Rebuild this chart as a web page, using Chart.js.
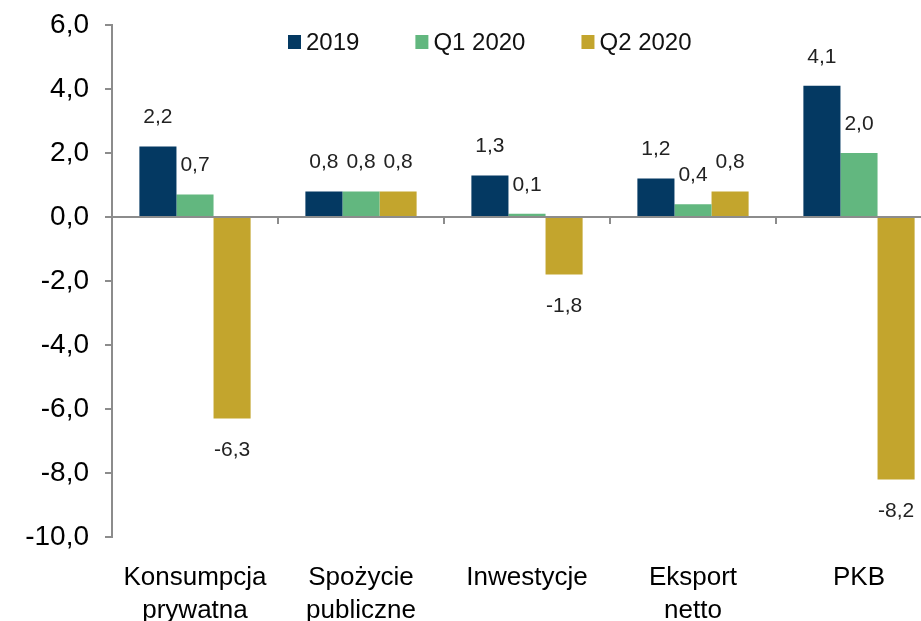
<!DOCTYPE html>
<html>
<head>
<meta charset="utf-8">
<script src="https://cdn.jsdelivr.net/npm/chart.js@4.4.1/dist/chart.umd.min.js"></script>
<style>
  html, body { margin: 0; padding: 0; background: #fff; overflow: hidden; }
  #wrap { width: 942px; height: 621px; }
</style>
</head>
<body>
<div id="wrap"><canvas id="gdpChart" width="942" height="621"></canvas></div>
<script>
const categories = [
  ["Konsumpcja", "prywatna"],
  ["Spożycie", "publiczne"],
  "Inwestycje",
  ["Eksport", "netto"],
  "PKB",
];
const seriesNames = ["2019", "Q1 2020", "Q2 2020"];
const values2019 = [2.2, 0.8, 1.3, 1.2, 4.1];
const valuesQ1 = [0.7, 0.8, 0.1, 0.4, 2.0];
const valuesQ2 = [-6.3, 0.8, -1.8, 0.8, -8.2];
const colors = ["#043962", "#62b77f", "#c3a52d"];

const fontFamily = "'Liberation Sans', Arial, sans-serif";
const axisGray = "#8c8c8c";
const fmt = (v) => v.toFixed(1).replace(".", ",");

// value labels above / below each bar
const valueLabels = {
  id: "valueLabels",
  afterDatasetsDraw(chart) {
    const ctx = chart.ctx;
    ctx.save();
    ctx.font = "21px " + fontFamily;
    ctx.fillStyle = "#222";
    ctx.textAlign = "center";
    ctx.textBaseline = "middle";
    chart.data.datasets.forEach((ds, i) => {
      chart.getDatasetMeta(i).data.forEach((bar, j) => {
        const v = ds.data[j];
        const y = v >= 0 ? bar.y - 29 : bar.y + 32;
        ctx.fillText(fmt(v), bar.x, y);
      });
    });
    ctx.restore();
  },
};

// small category ticks on the zero line + legend inside plot
const extras = {
  id: "extras",
  afterDraw(chart) {
    const ctx = chart.ctx;
    const xs = chart.scales.x;
    const y0 = chart.scales.y.getPixelForValue(0);
    ctx.save();
    ctx.strokeStyle = axisGray;
    ctx.lineWidth = 2;
    for (let i = 0; i < categories.length - 1; i++) {
      const x = Math.round((xs.getPixelForTick(i) + xs.getPixelForTick(i + 1)) / 2);
      ctx.beginPath();
      ctx.moveTo(x, y0);
      ctx.lineTo(x, y0 + 7);
      ctx.stroke();
    }

    // legend
    ctx.font = "24px " + fontFamily;
    ctx.textBaseline = "middle";
    ctx.textAlign = "left";
    let x = 288;
    const ly = 42;
    chart.data.datasets.forEach((ds) => {
      ctx.fillStyle = ds.backgroundColor;
      ctx.fillRect(x, ly - 7, 13, 14);
      ctx.fillStyle = "#111";
      ctx.fillText(ds.label, x + 18, ly + 1);
      x += 18 + ctx.measureText(ds.label).width + 56;
    });
    ctx.restore();
  },
};

new Chart(document.getElementById("gdpChart"), {
  type: "bar",
  data: {
    labels: categories,
    datasets: [
      { label: seriesNames[0], data: values2019, backgroundColor: colors[0] },
      { label: seriesNames[1], data: valuesQ1, backgroundColor: colors[1] },
      { label: seriesNames[2], data: valuesQ2, backgroundColor: colors[2] },
    ],
  },
  options: {
    responsive: false,
    animation: false,
    layout: { padding: { top: 25, right: 0, left: 0, bottom: 0 } },
    datasets: {
      bar: { categoryPercentage: 0.67, barPercentage: 1.0, borderWidth: 0 },
    },
    plugins: {
      legend: { display: false },
      tooltip: { enabled: false },
    },
    scales: {
      x: {
        grid: { display: false },
        border: { display: false },
        ticks: {
          color: "#000",
          font: { family: fontFamily, size: 26, lineHeight: 1.24 },
          padding: 17,
          maxRotation: 0,
          autoSkip: false,
        },
        afterFit(scale) {
          scale.height = 84;
          scale.paddingLeft = 0;
          scale.paddingRight = 0;
        },
      },
      y: {
        min: -10,
        max: 6,
        border: { display: true, color: axisGray, width: 2 },
        grid: {
          drawOnChartArea: true,
          color: (c) => (c.tick && c.tick.value === 0 ? axisGray : "rgba(0,0,0,0)"),
          lineWidth: 2,
          tickColor: axisGray,
          tickLength: 7,
        },
        ticks: {
          stepSize: 2,
          color: "#000",
          font: { family: fontFamily, size: 28 },
          padding: 16,
          callback: (v) => fmt(v),
        },
        afterFit(scale) {
          scale.width = 112;
          scale.paddingTop = 0;
          scale.paddingBottom = 0;
        },
      },
    },
  },
  plugins: [valueLabels, extras],
});
</script>
</body>
</html>
